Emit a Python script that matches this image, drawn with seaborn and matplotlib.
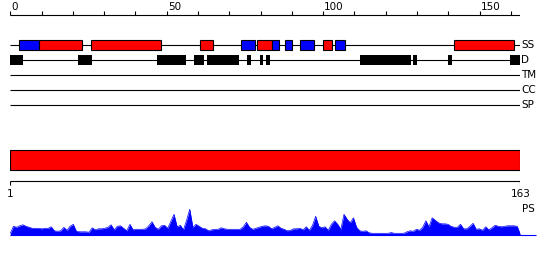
import numpy as np
import pandas as pd
import matplotlib
matplotlib.use("Agg")
import matplotlib.pyplot as plt
import seaborn as sns

sns.set_style("white")
plt.rcParams['font.family'] = ['DejaVu Sans']

# ---------------- data ----------------
seq_len = 163
top_ticks = list(range(0, 161, 10))
top_tick_labels = [0, 50, 100, 150]

tracks = ["SS", "D", "TM", "CC", "SP"]

ss_start = [2.9, 9.1, 25.9, 60.7, 73.8, 78.9, 83.7, 87.9, 92.7, 99.8, 103.9, 141.9]
ss_end   = [9.1, 22.8, 48.1, 64.9, 78.1, 83.7, 86.0, 89.9, 97.0, 102.9, 106.9, 160.9]
ss_type  = ["E", "H", "H", "H", "E", "H", "E", "E", "E", "H", "E", "H"]

d_start = [0.0, 21.6, 46.9, 58.7, 62.9, 75.6, 79.8, 81.7, 111.8, 128.7, 139.8, 159.7]
d_end   = [4.0, 26.0, 56.1, 61.8, 73.0, 76.9, 80.9, 82.9, 128.0, 130.0, 141.1, 163.2]

domain_start = [1]
domain_end = [163]
ruler_labels = [1, 163]

ps_residue = list(range(1, 164))
ps_value = [
    2, 9, 8, 9.5, 10.5, 9, 8, 7, 7, 7,
    6.5, 7, 7, 8.5, 4.5, 4, 4.5, 8, 5, 9,
    11, 4, 3.5, 3.5, 3.5, 3, 7.5, 5.5, 6.5, 6.5,
    7, 8, 10.5, 5.5, 9, 9.5, 7, 4.5, 11, 5.5,
    6, 6, 6, 6.5, 9.5, 13.5, 8, 6, 9.5, 10,
    7, 14, 21, 8.5, 10, 5.5, 15, 26, 8, 11,
    9, 7, 6.5, 4.5, 5.5, 6, 6, 7.5, 6.5, 6,
    6, 6, 6, 6, 8.5, 13, 8, 6, 7, 8,
    9, 9.5, 9, 6.5, 8, 9.5, 7, 6, 4.5, 5,
    6.5, 6.5, 7, 5.5, 8.5, 5, 10, 19, 9, 7.5,
    8.5, 5, 11, 14.5, 11, 6, 21, 16, 12.5, 17.5,
    8, 4.5, 4, 4.5, 2.5, 2, 2, 2, 2, 2,
    2, 2.7, 2, 2, 2, 2, 3.5, 4.5, 4, 6,
    5, 8, 14.5, 8.5, 17.5, 15, 12.5, 11.5, 11.5, 11,
    9, 8, 8, 11, 6.5, 6.5, 9, 12, 6, 6.5,
    5, 8.5, 5.5, 7.5, 10, 9, 8.5, 9, 9.5, 9.5,
    9.5, 9, 1,
]

# ---------------- layout (pixel based y) ----------------
W, H = 550, 260
fig = plt.figure(figsize=(W / 100, H / 100), dpi=100)
left_px, right_px = 10.3, 520.3
pos = [left_px / W, 0, (right_px - left_px) / W, 1]

ax1 = fig.add_axes(pos)
ax2 = fig.add_axes(pos)
for ax in (ax1, ax2):
    ax.set_ylim(H, 0)
    ax.axis("off")
    ax.patch.set_alpha(0)
ax1.set_xlim(0, seq_len)
ax2.set_xlim(1, seq_len)

fs = 7.5
lw = 0.8
red = "#ff0000"
blue = "#0000ff"

# top ruler
ruler_y = 15
ax1.hlines(ruler_y, 0, seq_len, color="black", lw=lw)
ax1.vlines(top_ticks, ruler_y - 4.5, ruler_y, color="black", lw=lw)
for t in top_tick_labels:
    ax1.text(t + 0.35, ruler_y - 5, str(t), ha="left", va="baseline",
             fontsize=fs, color="black")

# tracks
track_y = {"SS": 45, "D": 60, "TM": 75, "CC": 90, "SP": 105}
for name in tracks:
    y = track_y[name]
    ax1.hlines(y, 0, seq_len, color="black", lw=lw, zorder=1)
    ax1.text(seq_len + 0.2, y, name, ha="left", va="center",
             fontsize=fs, color="black", clip_on=False)

ss_df = pd.DataFrame({"start": ss_start, "end": ss_end, "type": ss_type})
ss_colors = {"H": red, "E": blue}
ax1.barh(track_y["SS"], ss_df["end"] - ss_df["start"], left=ss_df["start"],
         height=10, color=[ss_colors[t] for t in ss_df["type"]],
         edgecolor="black", linewidth=lw, zorder=2)

d_df = pd.DataFrame({"start": d_start, "end": d_end})
ax1.barh(track_y["D"], d_df["end"] - d_df["start"], left=d_df["start"],
         height=10.5, color="black", edgecolor="black", linewidth=0, zorder=2)

# domain bar
ax2.barh(160.3, np.array(domain_end) - np.array(domain_start), left=domain_start,
         height=20, color=red, edgecolor="black", linewidth=lw, zorder=2)

# bottom ruler
by = 180.6
ax2.hlines(by, ruler_labels[0], ruler_labels[-1], color="black", lw=lw)
ax2.vlines(ruler_labels, by, by + 4.5, color="black", lw=lw)
for r in ruler_labels:
    ax2.text(r, by + 8.5, str(r), ha="center", va="top", fontsize=fs, color="black")
ax2.text(seq_len + 0.45, 204, "PS", ha="left", va="top", fontsize=fs,
         color="black", clip_on=False)

# profile
base = 235.3
prof = pd.DataFrame({"residue": ps_residue, "value": ps_value})
prof["y"] = base - prof["value"]
ax2.fill_between(prof["residue"], base, prof["y"], color=blue, linewidth=0, zorder=2)
sns.lineplot(data=prof, x="residue", y="y", ax=ax2, color=blue, lw=0.5, zorder=3)
ax2.hlines(base, 1, 168, color=blue, lw=lw, clip_on=False, zorder=3)
ax2.set_xlim(1, seq_len)
ax2.set_ylim(H, 0)
ax2.axis("off")

fig.savefig("out.png", dpi=100)
